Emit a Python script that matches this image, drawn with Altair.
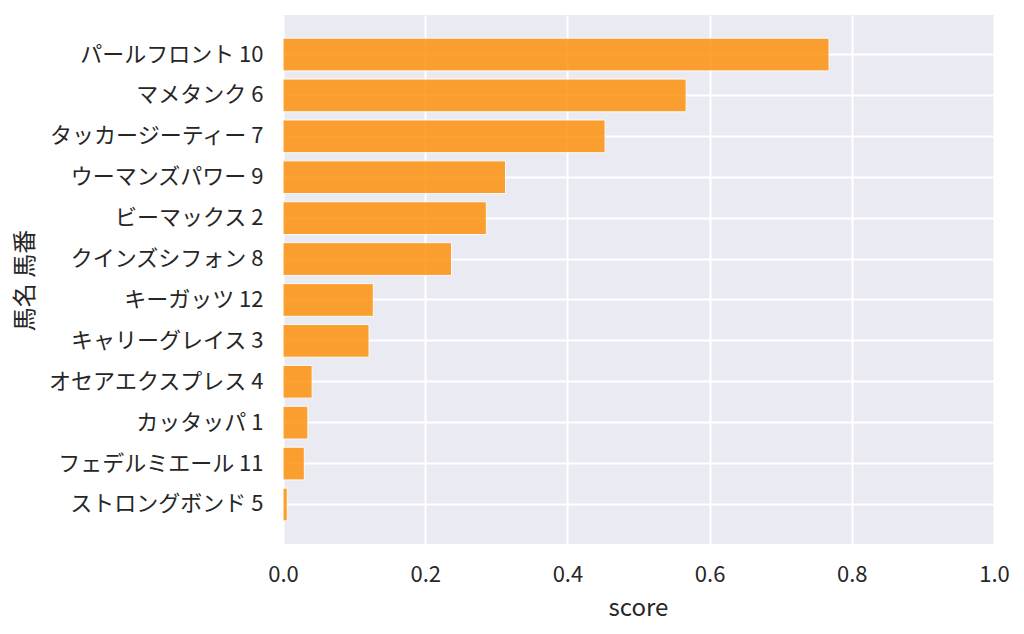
import altair as alt
import pandas as pd

horses = ["パールフロント 10", "マメタンク 6", "タッカージーティー 7", "ウーマンズパワー 9",
          "ビーマックス 2", "クインズシフォン 8", "キーガッツ 12", "キャリーグレイス 3",
          "オセアエクスプレス 4", "カッタッパ 1", "フェデルミエール 11", "ストロングボンド 5"]
scores = [0.768, 0.567, 0.453, 0.313, 0.286, 0.237, 0.127, 0.121, 0.041, 0.035, 0.030, 0.006]

df = pd.DataFrame({"horse": horses, "score": scores})

FONT = "Noto Sans CJK JP"
TXT = "#262626"

chart = alt.Chart(df).mark_bar(
    color="#FF8C00", opacity=0.8, stroke="white", strokeWidth=1
).encode(
    x=alt.X("score:Q",
            scale=alt.Scale(domain=[0, 1], nice=False, zero=True),
            axis=alt.Axis(title="score", values=[0, 0.2, 0.4, 0.6, 0.8, 1.0], format=".1f",
                          grid=True, gridColor="white", gridWidth=2, gridOpacity=1,
                          domain=False, ticks=False, labelPadding=20,
                          labelFont=FONT, labelFontSize=22, labelColor=TXT,
                          titleFont=FONT, titleFontSize=24, titleColor=TXT, titleFontWeight="normal",
                          titleX=355, titleY=71, titleBaseline="alphabetic", titleAlign="center",
                          labelFlush=False)),
    y=alt.Y("horse:N", sort=horses,
            scale=alt.Scale(paddingInner=0.2, paddingOuter=0.566),
            axis=alt.Axis(title="馬名 馬番", grid=True, gridColor="white", gridWidth=2,
                          gridOpacity=1, bandPosition=0.5,
                          domain=False, ticks=False, labelPadding=20,
                          labelFont=FONT, labelFontSize=22, labelColor=TXT, labelLimit=400,
                          titleFont=FONT, titleFontSize=24, titleColor=TXT, titleFontWeight="normal",
                          titleX=-258, titleY=265, titleAngle=270, titleBaseline="middle",
                          titleAlign="center")),
).properties(
    width=711, height=529,
    autosize=alt.AutoSizeParams(type="none"),
    padding={"left": 275, "top": 7, "right": 15, "bottom": 80},
    background="white",
).configure_view(
    fill="#EAEAF2", stroke=None
)

chart.save("out.html", embed_options={"renderer": "svg", "actions": False})
